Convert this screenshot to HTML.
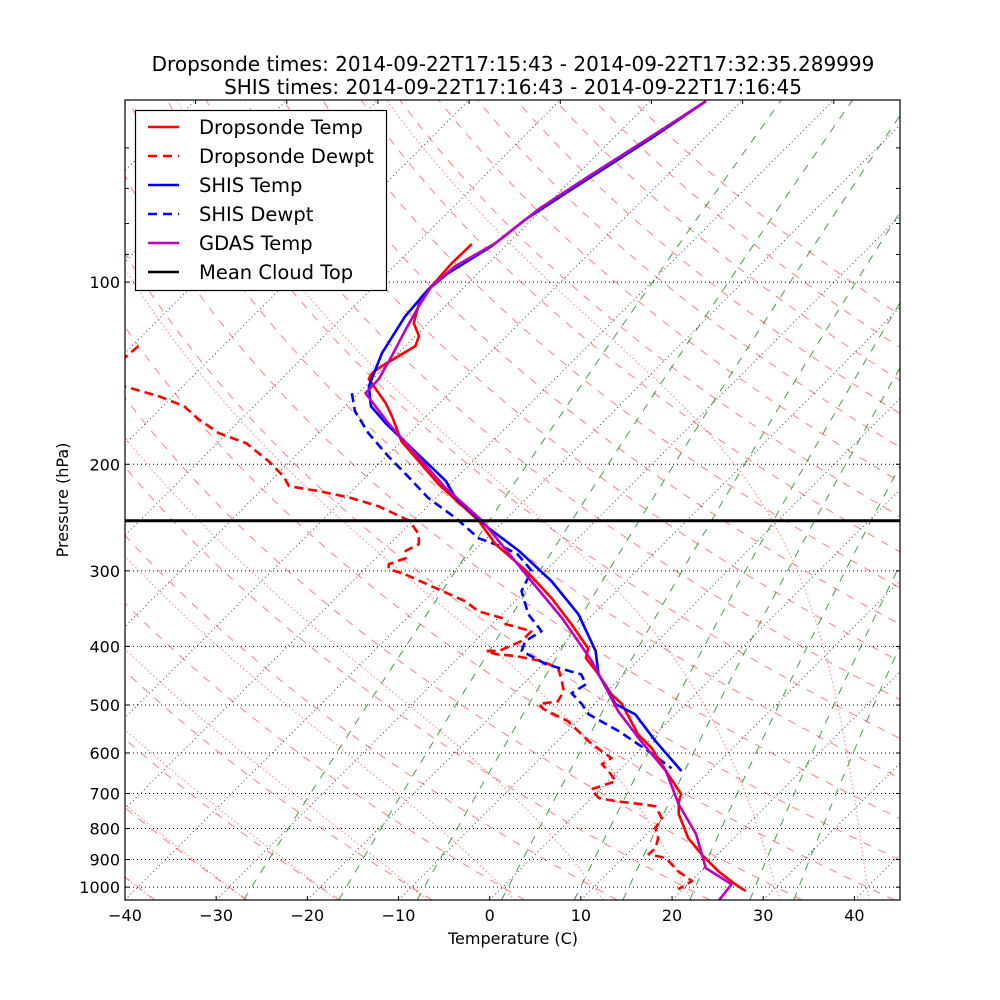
<!DOCTYPE html>
<html><head><meta charset="utf-8"><style>
html,body{margin:0;padding:0;background:#fff;}
svg{display:block;font-family:"DejaVu Sans","Liberation Sans",sans-serif;}
</style></head><body>
<svg id="chart" width="1000" height="1000" viewBox="0 0 1000 1000" xmlns="http://www.w3.org/2000/svg">
<defs><clipPath id="plotclip"><rect x="125" y="100" width="775" height="800"/></clipPath></defs>
<rect x="0" y="0" width="1000" height="1000" fill="#fff"/>
<text x="513" y="71" font-size="20" text-anchor="middle">Dropsonde times: 2014-09-22T17:15:43 - 2014-09-22T17:32:35.289999</text>
<text x="513" y="94" font-size="20" text-anchor="middle">SHIS times: 2014-09-22T17:16:43 - 2014-09-22T17:16:45</text>
<g id="bg" clip-path="url(#plotclip)"></g>
<g id="series" clip-path="url(#plotclip)"></g>
<rect x="125" y="100" width="775" height="800" fill="none" stroke="#000" stroke-width="1.2"/>
<g id="axes"></g>
<text x="513" y="944" font-size="16" text-anchor="middle">Temperature (C)</text>
<text x="0" y="0" font-size="16" text-anchor="middle" transform="translate(68,500) rotate(-90)">Pressure (hPa)</text>
<g id="legend">
<rect x="135.5" y="110.5" width="251" height="180" fill="#fff" stroke="#000" stroke-width="1.2"/>
</g>
</svg>
<script>
// ---- data (pressure hPa, temperature C) ----
const gdasP = [50.2,57.4,66.8,75.7,86.2,94.1,101.5,109.6,119.6,132.5,144.6,152.6,171.1,219,248,312,359,423,512,574,643,729,817,930,989,1054];
const gdasT = [-63.9,-66.0,-68.5,-70.4,-71.4,-73.3,-73.7,-72.9,-71.8,-70.4,-69.3,-69.2,-63.4,-50.0,-42.4,-30.4,-23.0,-15.0,-6.6,-0.8,5.2,10.2,15.4,20.2,24.8,25.2];
const dropP = [86.5,93.0,101.5,106.3,116.9,122.8,127.6,137.7,141.4,144.6,150.3,158.5,166.5,183.2,215.8,248,271,300,333,367.5,403,418,445,480,498,559,589,651,702,721,757,830,882,941,989,1015];
const dropT = [-73.9,-74.0,-73.7,-73.6,-71.6,-69.6,-68.9,-70.4,-70.7,-70.4,-68.5,-65.9,-63.8,-60.0,-51.2,-42.8,-38.4,-32.1,-26.3,-21.3,-16.8,-16.0,-12.8,-9.2,-7.0,-1.9,1.1,5.8,9.4,9.9,11.3,15.0,18.2,21.9,25.2,27.1];
const dewP = [127.6,134,140.3,148.6,154.3,160.3,168.4,177.7,184.6,197.6,209.3,217.4,221.5,226.7,234.6,248,261,271,278,286,292.5,298,304,320.5,337,350,359,367.5,377.5,392,407,407,412,415,423,434.5,456.5,474,493,498,508,532,559,580,612,626,643,668,689,712.5,721,729,735,769,799,830,862,882,895,916,941,977,1008];
const dewT = [-99.3,-99.5,-100.9,-96.5,-91.6,-87.7,-84.7,-80.9,-76.8,-72.4,-69.1,-67.4,-63.6,-59.7,-55.4,-50.4,-47.9,-46.8,-47.5,-46.7,-47.9,-47.4,-45.0,-40.1,-35.4,-32.9,-29.6,-28.5,-24.9,-24.9,-26.3,-27.7,-26.3,-23.9,-20.5,-17.9,-16.1,-14.8,-14.3,-16.1,-15.0,-11.0,-8.1,-5.9,-2.2,-2.6,-1.1,0.8,-1.0,0.8,3.0,6.1,7.9,9.9,10.3,11.7,12.5,12.4,14.7,16.0,17.5,20.1,19.5];
const shisP = [50.2,57.8,71.3,78.7,87.2,96.6,102.7,113.8,131,148.6,160.3,171.1,213,227.5,255,278,312,354,407,445,498,518,574,643];
const shisT = [-63.9,-65.8,-69.2,-70.7,-71.5,-73.3,-73.7,-73.3,-71.8,-69.6,-67.2,-63.7,-50.8,-47.8,-40.9,-35.1,-28.2,-21.6,-15.7,-12.8,-7.7,-4.4,0.8,6.9];
const shisDP = [152.6,163.4,177.7,194,207.7,227.5,245.5,265,275,282,300,324,354,377.5,392,407,428,445,462,478,498,518,552,596,636];
const shisTd = [-70.7,-68.4,-64.5,-59.8,-55.9,-50.8,-45.6,-40.9,-36.9,-34.8,-31.5,-30.4,-27.1,-23.8,-24.5,-23.8,-19.7,-14.7,-13.1,-13.7,-11.4,-9.5,-4.4,1.1,5.5];
const cloudTopP = [248];
const xTickLabels = [-40,-30,-20,-10,0,10,20,30,40];
const yTickLabels = [100,200,300,400,500,600,700,800,900,1000];
const yMinorTicks = [50,60,70,80,90];
const mixingRatios = [0.0004,0.001,0.002,0.004,0.007,0.01,0.016,0.024,0.032];

// ---- axes ----
const PTOP=50, PBOT=1050, YTOP=100, YBOT=900, XL=125, XR=900, TL=-40, TR=45;
const yScale = (YBOT-YTOP)/Math.log10(PBOT/PTOP);
const xScale = (XR-XL)/(TR-TL);
function yOf(p){ return YTOP + yScale*Math.log10(p/PTOP); }
function xOf(T,p){ return XL + (T-TL)*xScale + (YBOT - yOf(p)); }

const NS="http://www.w3.org/2000/svg";
function mk(tag, attrs, parent){
  const e=document.createElementNS(NS,tag);
  for(const k in attrs) e.setAttribute(k,attrs[k]);
  parent.appendChild(e); return e;
}
function pointsFrom(ps, ts){
  const out=[];
  const n=Math.min(ps.length, ts.length);
  for(let i=0;i<n;i++){ out.push(xOf(ts[i],ps[i]).toFixed(2)+','+yOf(ps[i]).toFixed(2)); }
  return out.join(' ');
}
const bg=document.getElementById('bg');
const series=document.getElementById('series');
const axes=document.getElementById('axes');

const pGrid=[]; for(let p=PBOT;p>=PTOP-0.01;p-=5) pGrid.push(p);

// isotherms
for(let T=-160;T<=50;T+=10){
  const e=mk('polyline',{points:pointsFrom([PBOT,PTOP],[T,T]),stroke:'#000','stroke-width':1,'stroke-dasharray':'1,3',fill:'none',opacity:0.75},bg);
  
  
}
// horizontal grid
yTickLabels.forEach(p=>{
  const y=yOf(p);
  const e=mk('line',{x1:XL,x2:XR,y1:y,y2:y,stroke:'#000','stroke-width':1,'stroke-dasharray':'1,3'},bg);
  
  
});
// dry adiabats
for(let t0=-80;t0<=200;t0+=10){
  const th=t0+273.15, ts=pGrid.map(p=>th*Math.pow(p/1000,0.2857)-273.15);
  const e=mk('polyline',{points:pointsFrom(pGrid,ts),stroke:'#ff0000','stroke-opacity':0.5,'stroke-width':1,'stroke-dasharray':'8,8',fill:'none'},bg);
  
  
}
// moist adiabats
function es(Tc){ return 6.112*Math.exp(17.67*Tc/(Tc+243.5)); }
function dTdp(p,T){
  const Rd=287.04,Cp=1005.7,Lv=2.501e6*0.85,eps=0.622;
  const e=es(T-273.15), rs=eps*e/(p-e);
  return (Rd*T+Lv*rs)/(Cp+Lv*Lv*rs*eps/(Rd*T*T))/p;
}
function moist(t0){
  let T=t0+273.15, p=1000; const h=-2;
  const up=[[p,T]];
  while(p>PTOP){ const k1=dTdp(p,T),k2=dTdp(p+h/2,T+h/2*k1),k3=dTdp(p+h/2,T+h/2*k2),k4=dTdp(p+h,T+h*k3);
    T+=h/6*(k1+2*k2+2*k3+k4); p+=h; up.push([p,T]); }
  T=t0+273.15; p=1000; const dn=[];
  while(p<PBOT){ const hh=2; const k1=dTdp(p,T),k2=dTdp(p+hh/2,T+hh/2*k1),k3=dTdp(p+hh/2,T+hh/2*k2),k4=dTdp(p+hh,T+hh*k3);
    T+=hh/6*(k1+2*k2+2*k3+k4); p+=hh; dn.push([p,T]); }
  const all=dn.reverse().concat(up);
  return [all.map(a=>a[0]), all.map(a=>a[1]-273.15)];
}
for(let t0=-60;t0<=40;t0+=10){
  const m=moist(t0);
  const e=mk('polyline',{points:pointsFrom(m[0],m[1]),stroke:'#ff0000','stroke-opacity':0.45,'stroke-width':1.2,'stroke-dasharray':'1.4,2.6',fill:'none'},bg);
  
  
}
// mixing ratio lines
mixingRatios.forEach(w=>{
  const ts=pGrid.map(p=>{ const e=w*p/(0.622+w), l=Math.log(e/6.112); return 243.5*l/(17.67-l); });
  const e=mk('polyline',{points:pointsFrom(pGrid,ts),stroke:'#008000','stroke-opacity':0.75,'stroke-width':1,'stroke-dasharray':'8,8',fill:'none'},bg);
  
  
});

// ---- profiles ----
function profile(ps,ts,color,dash,name){
  const a={points:pointsFrom(ps,ts),stroke:color,'stroke-width':2.6,fill:'none','stroke-linejoin':'round'};
  if(dash) a['stroke-dasharray']=dash;
  const e=mk('polyline',a,series);
  
  
}
profile(dewP,dewT,'#ff0000','9,5','dropsonde-dewpt-line');
profile(shisDP,shisTd,'#0000ff','9,5','shis-dewpt-line');
profile(dropP,dropT,'#ff0000',null,'dropsonde-temp-line');
profile(shisP,shisT,'#0000ff',null,'shis-temp-line');
profile(gdasP,gdasT,'#bf00bf',null,'gdas-temp-line');
cloudTopP.forEach(p=>{
  const y=yOf(p);
  const e=mk('line',{x1:XL,x2:XR,y1:y,y2:y,stroke:'#000','stroke-width':3},series);
  
  
});

// ---- ticks ----
xTickLabels.forEach(T=>{
  const x=XL+(T-TL)*xScale;
  const t=mk('line',{x1:x,x2:x,y1:YBOT,y2:YBOT-4,stroke:'#000','stroke-width':1},axes);
  
  
  const l=mk('text',{x:x,y:921,'font-size':16,'text-anchor':'middle'},axes);
  l.textContent=(T<0?'\u2212'+(-T):String(T));
  
  
});
for(let T=-130;T<=-30;T+=10){
  const x=XL+(T-TL)*xScale+(YBOT-YTOP);
  if(x<XL||x>XR) continue;
  const t=mk('line',{x1:x,x2:x,y1:YTOP,y2:YTOP+4,stroke:'#000','stroke-width':1},axes);
  
  
}
yTickLabels.concat(yMinorTicks).forEach(p=>{
  const y=yOf(p);
  [[XL,XL+4],[XR,XR-4]].forEach(s=>{
    const t=mk('line',{x1:s[0],x2:s[1],y1:y,y2:y,stroke:'#000','stroke-width':1},axes);
    
    
  });
});
yTickLabels.forEach(p=>{
  const l=mk('text',{x:120,y:yOf(p)+6,'font-size':16,'text-anchor':'end'},axes);
  l.textContent=String(p);
  
  
});

// ---- legend ----
const legNames=['Dropsonde Temp','Dropsonde Dewpt','SHIS Temp','SHIS Dewpt','GDAS Temp','Mean Cloud Top'];
const legColors=['#ff0000','#ff0000','#0000ff','#0000ff','#bf00bf','#000000'];
const legDash=[null,'9,6',null,'9,6',null,null];
const leg=document.getElementById('legend');
legNames.forEach((n,i)=>{
  const y=127+i*29;
  const a={x1:148,x2:179,y1:y,y2:y,stroke:legColors[i],'stroke-width':2.6};
  if(legDash[i]) a['stroke-dasharray']=legDash[i];
  const ln=mk('line',a,leg);
  
  
  const tx=mk('text',{x:199,y:y+7,'font-size':19.5},leg);
  tx.textContent=n;
  
  
});
</script>
</body></html>
